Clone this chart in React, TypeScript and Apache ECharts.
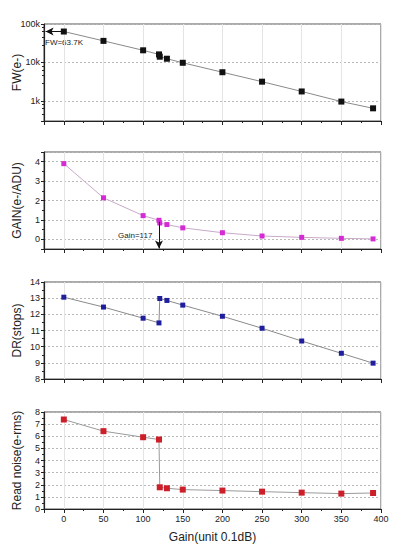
import React, { useEffect, useRef } from "react";
import * as echarts from "echarts";

// Gain settings (unit 0.1 dB)
const GAIN_X = [0, 50, 100, 120, 121, 130, 150, 200, 250, 300, 350, 390];
// Full well (e-)
const FW = [63700, 36400, 20700, 16200, 14100, 12500, 9800, 5570, 3160, 1760, 960, 641];
// Conversion gain (e-/ADU)
const GAIN = [3.9, 2.14, 1.22, 0.98, 0.84, 0.76, 0.59, 0.34, 0.17, 0.1, 0.05, 0.02];
// Dynamic range (stops)
const DR = [13.06, 12.45, 11.76, 11.47, 12.98, 12.86, 12.57, 11.88, 11.14, 10.35, 9.59, 8.98];
// Read noise (e- rms)
const RN = [7.38, 6.42, 5.92, 5.73, 1.79, 1.71, 1.6, 1.52, 1.43, 1.35, 1.27, 1.32];

const X_TICKS = [0, 50, 100, 150, 200, 250, 300, 350, 400];
const Y_NAMES = ["FW(e-)", "GAIN(e-/ADU)", "DR(stops)", "Read noise(e-rms)"];
const X_NAME = "Gain(unit 0.1dB)";
const FW_NOTE = "FW=63.7K";
const GAIN_NOTE = "Gain=117";

const FONT = "Liberation Sans, Arial, sans-serif";

export default function App() {
  const ref = useRef<HTMLDivElement>(null);
  useEffect(() => {
    if (!ref.current) return;
    document.body.style.margin = "0";
    const chart = echarts.init(ref.current, null, { renderer: "svg" });
    const tops = [24, 152, 282, 412];
    const h = 97;
    const grids = tops.map((t) => ({
      left: 44,
      right: 35,
      top: t,
      height: h,
      show: true,
      borderColor: "#555",
      borderWidth: 1,
      backgroundColor: "transparent",
      outerBoundsMode: "none",
      containLabel: false,
    }));
    const xAxes = tops.map((_, i) => ({
      type: "value",
      gridIndex: i,
      min: -25,
      max: 400,
      splitNumber: 8,
      name: i === 3 ? X_NAME : "",
      nameLocation: "middle",
      nameGap: 22,
      nameMoveOverlap: false,
      nameTextStyle: { fontFamily: FONT, fontSize: 12, color: "#222" },
      axisLine: { show: true, onZero: false, lineStyle: { color: "#222", width: 1.2 } },
      axisTick: { show: true, inside: false, length: 4, lineStyle: { color: "#222" } },
      minorTick: { show: true, splitNumber: 2, length: 2, lineStyle: { color: "#222" } },
      axisLabel: {
        show: i === 3,
        showMinLabel: false,
        fontFamily: FONT,
        fontSize: 9,
        color: "#222",
        margin: 5,
        formatter: (v: number) => (X_TICKS.includes(v) ? String(v) : ""),
      },
      splitLine: { show: true, lineStyle: { color: "#e4e4e4", width: 1 } },
    }));
    const common = (i: number) => ({
      gridIndex: i,
      name: Y_NAMES[i],
      nameLocation: "middle",
      nameGap: 21,
      nameMoveOverlap: false,
      nameTextStyle: { fontFamily: FONT, fontSize: 12, color: "#222" },
      axisLine: { show: true, onZero: false, lineStyle: { color: "#222", width: 1.2 } },
      axisTick: { show: true, inside: false, length: 3, lineStyle: { color: "#222" } },
      minorTick: { show: true, splitNumber: 2, length: 2, lineStyle: { color: "#222" } },
      axisLabel: {
        fontFamily: FONT,
        fontSize: 9,
        color: "#222",
        margin: 4,
        showMinLabel: false,
        showMaxLabel: true,
      },
      splitLine: { show: true, lineStyle: { color: "#b8b8b8", type: [2, 2], width: 1 } },
      minorSplitLine: { show: false },
    });
    const yAxes = [
      {
        ...common(0),
        type: "log",
        min: 300,
        max: 100000,
        logBase: 10,
        minorTick: { show: true, splitNumber: 5, length: 2, lineStyle: { color: "#222" } },
        axisLabel: {
          ...common(0).axisLabel,
          formatter: (v: number) => (v >= 1000 ? Math.round(v / 1000) + "k" : String(v)),
        },
      },
      {
        ...common(1),
        type: "value",
        min: -0.5,
        max: 4.5,
        splitNumber: 5,
        axisLabel: { ...common(1).axisLabel, showMaxLabel: false },
      },
      { ...common(2), type: "value", min: 8, max: 14, interval: 1, axisLabel: { ...common(2).axisLabel, showMinLabel: true } },
      { ...common(3), type: "value", min: 0, max: 8, interval: 1, axisLabel: { ...common(3).axisLabel, showMinLabel: true } },
    ];
    const mk = (i: number, vals: number[], color: string, lineColor: string, size: number) => ({
      type: "line",
      xAxisIndex: i,
      yAxisIndex: i,
      data: GAIN_X.map((x, k) => [x, vals[k]]),
      symbol: "rect",
      symbolSize: size,
      itemStyle: { color },
      lineStyle: { color: lineColor, width: 1 },
      z: 3,
    });
    const s0: any = mk(0, FW, "#111", "#8a8a8a", 6);
    s0.markLine = {
      silent: true,
      symbol: ["none", "arrow"],
      symbolSize: [6, 8],
      label: { show: false },
      lineStyle: { color: "#111", type: "solid", width: 1 },
      data: [[{ coord: [0, FW[0]] }, { coord: [-23, FW[0]] }]],
    };
    const s1: any = mk(1, GAIN, "#d42bd4", "#c9a9c9", 5);
    s1.markLine = {
      silent: true,
      symbol: ["none", "arrow"],
      symbolSize: [6, 8],
      label: { show: false },
      lineStyle: { color: "#111", type: "solid", width: 1 },
      data: [[{ coord: [120, 0.9] }, { coord: [120, -0.47] }]],
    };
    const s2 = mk(2, DR, "#1f1f9e", "#8a8a8a", 5);
    const s3 = mk(3, RN, "#cc1f2a", "#9a9a9a", 6);

    chart.setOption({
      animation: false,
      backgroundColor: "#fff",
      textStyle: { fontFamily: FONT },
      grid: grids,
      xAxis: xAxes,
      yAxis: yAxes,
      series: [s0, s1, s2, s3],
      graphic: [
        {
          type: "text",
          left: 45,
          top: 38,
          style: { text: FW_NOTE, fontFamily: FONT, fontSize: 8, fill: "#222" },
        },
        {
          type: "text",
          left: 118,
          top: 231,
          style: { text: GAIN_NOTE, fontFamily: FONT, fontSize: 8, fill: "#222" },
        },
      ],
    });
    return () => chart.dispose();
  }, []);
  return <div ref={ref} style={{ width: 416, height: 552 }} />;
}
